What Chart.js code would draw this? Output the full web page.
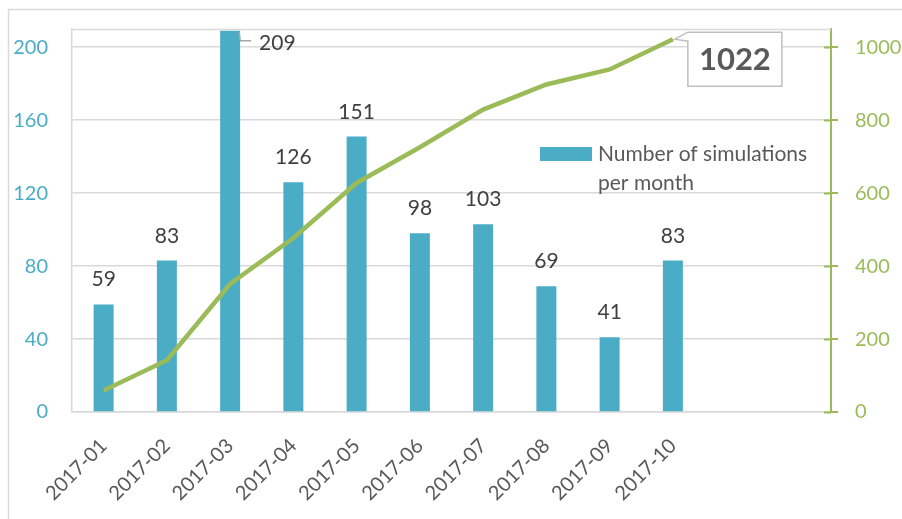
<!DOCTYPE html>
<html>
<head>
<meta charset="utf-8">
<script src="https://cdn.jsdelivr.net/npm/chart.js@4.4.1/dist/chart.umd.min.js"></script>
<style>
  html, body { margin: 0; padding: 0; background: #fff; }
  #wrap { position: relative; width: 902px; height: 519px; }
</style>
</head>
<body>
<div id="wrap"><canvas id="chart1"></canvas></div>
<script>
(function () {
  // ====== data ======
  const months = ['2017-01','2017-02','2017-03','2017-04','2017-05','2017-06','2017-07','2017-08','2017-09','2017-10','',''];
  const perMonth = [59, 83, 209, 126, 151, 98, 103, 69, 41, 83];
  const cumulative = [59, 142, 351, 477, 628, 726, 829, 898, 939, 1022];
  const leftTicks = [0, 40, 80, 120, 160, 200];
  const rightTicks = [0, 200, 400, 600, 800, 1000];
  const barLabel = 'Number of simulations per month';

  const BLUE = '#4BACC6';
  const GREEN = '#9BBB59';
  const GRID = '#D9D9D9';
  const TEXT = '#404040';
  const FONT = 'Lato, "Open Sans", sans-serif';

  // no extra room for half-labels, the plot box is fixed
  const noPad = s => { s.paddingTop = 0; s.paddingBottom = 0; s.paddingLeft = 0; s.paddingRight = 0; };

  // ====== frame + labels + legend ======
  const decor = {
    id: 'decor',
    beforeDraw(chart) {
      const c = chart.ctx;
      c.save();
      c.strokeStyle = GRID;
      c.lineWidth = 1.5;
      c.beginPath();
      c.moveTo(8.5, chart.height);
      c.lineTo(8.5, 9.5);
      c.lineTo(chart.width, 9.5);
      c.stroke();
      c.restore();
    },
    afterDraw(chart) {
      const c = chart.ctx;
      const area = chart.chartArea;
      c.save();

      // top edge of the plot box
      c.strokeStyle = GRID;
      c.lineWidth = 1.5;
      c.beginPath();
      c.moveTo(area.left, area.top + 0.5);
      c.lineTo(area.right, area.top + 0.5);
      c.stroke();

      // inner half of the right axis ticks
      const y2 = chart.scales.y2;
      c.strokeStyle = GREEN;
      c.lineWidth = 2;
      rightTicks.forEach(v => {
        const y = Math.round(y2.getPixelForValue(v)) + 0.5;
        c.beginPath();
        c.moveTo(area.right - 7, y);
        c.lineTo(area.right, y);
        c.stroke();
      });

      // bar value labels
      const bars = chart.getDatasetMeta(0).data;
      c.font = '21px ' + FONT;
      c.fillStyle = TEXT;
      c.textBaseline = 'alphabetic';
      bars.forEach((bar, i) => {
        const txt = String(perMonth[i]);
        if (bar.y - 38 < area.top) {
          // no room above: leader line + label on the right
          const bx = bar.x + bar.width / 2 - 1;
          c.strokeStyle = '#A6A6A6';
          c.lineWidth = 1.5;
          c.beginPath();
          c.moveTo(bx, bar.y + 1);
          c.lineTo(bx + 1, bar.y + 10);
          c.lineTo(bx + 12, bar.y + 10);
          c.stroke();
          c.textAlign = 'left';
          c.fillText(txt, bx + 20, bar.y + 19);
        } else {
          c.textAlign = 'center';
          c.fillText(txt, bar.x, bar.y - 18);
        }
      });

      // callout for the last cumulative value
      const pts = chart.getDatasetMeta(1).data;
      const last = pts[pts.length - 1];
      const bx0 = last.x + 15, by0 = last.y - 7, bw = 94, bh = 54;
      c.fillStyle = '#fff';
      c.strokeStyle = '#BFBFBF';
      c.lineWidth = 1.5;
      c.beginPath();
      c.moveTo(last.x + 2, last.y);
      c.lineTo(bx0, by0);
      c.lineTo(bx0 + bw, by0);
      c.lineTo(bx0 + bw, by0 + bh);
      c.lineTo(bx0, by0 + bh);
      c.lineTo(bx0, by0 + 9);
      c.closePath();
      c.fill();
      c.stroke();
      c.fillStyle = '#595959';
      c.font = 'bold 31px ' + FONT;
      c.textAlign = 'center';
      c.textBaseline = 'middle';
      c.fillText(String(cumulative[cumulative.length - 1]), bx0 + bw / 2, by0 + bh / 2 + 1);

      // legend (bar series only), wrapped in two lines
      const lx = 540, ly = 147;
      c.fillStyle = BLUE;
      c.fillRect(lx, ly, 52, 14);
      c.fillStyle = '#595959';
      c.font = '21px ' + FONT;
      c.textAlign = 'left';
      c.textBaseline = 'middle';
      const words = barLabel.split(' ');
      const lines = [];
      let cur = '';
      words.forEach(w => {
        const t = cur ? cur + ' ' + w : w;
        if (c.measureText(t).width > 232 && cur) { lines.push(cur); cur = w; } else { cur = t; }
      });
      lines.push(cur);
      lines.forEach((t, k) => c.fillText(t, lx + 58, ly + 7 + k * 29));

      c.restore();
    }
  };

  const ctx = document.getElementById('chart1');
  new Chart(ctx, {
    data: {
      labels: months,
      datasets: [
        {
          type: 'bar',
          label: barLabel,
          data: perMonth,
          backgroundColor: BLUE,
          borderWidth: 0,
          barPercentage: 0.316,
          categoryPercentage: 1,
          yAxisID: 'y',
          order: 2
        },
        {
          type: 'line',
          label: 'Cumulative',
          data: cumulative,
          borderColor: GREEN,
          borderWidth: 4.5,
          pointRadius: 0,
          tension: 0,
          fill: false,
          yAxisID: 'y2',
          order: 1
        }
      ]
    },
    options: {
      responsive: true,
      maintainAspectRatio: false,
      animation: false,
      layout: { padding: { top: 29, left: 0, right: 0, bottom: 0 } },
      plugins: {
        legend: { display: false },
        tooltip: { enabled: false }
      },
      scales: {
        x: {
          grid: { display: false, drawTicks: false },
          border: { color: GRID, width: 1.5 },
          ticks: {
            autoSkip: false,
            minRotation: 45,
            maxRotation: 45,
            padding: 22,
            color: '#595959',
            font: { family: FONT, size: 20 }
          },
          afterFit(s) { s.height = 107; noPad(s); }
        },
        y: {
          position: 'left',
          min: 0,
          max: 210,
          afterBuildTicks(s) { s.ticks = leftTicks.map(v => ({ value: v })); },
          grid: { color: GRID, lineWidth: 1.5, drawTicks: false },
          border: { color: GRID, width: 1.5 },
          ticks: {
            padding: 24,
            color: BLUE,
            font: { family: FONT, size: 20 }
          },
          afterFit(s) { s.width = 72; noPad(s); }
        },
        y2: {
          position: 'right',
          min: 0,
          max: 1050,
          afterBuildTicks(s) { s.ticks = rightTicks.map(v => ({ value: v })); },
          grid: { drawOnChartArea: false, drawTicks: true, tickLength: 7, color: GREEN, lineWidth: 2 },
          border: { color: GREEN, width: 2 },
          ticks: {
            padding: 17,
            color: GREEN,
            font: { family: FONT, size: 20 },
            callback: v => String(v)
          },
          afterFit(s) { s.width = 71; noPad(s); }
        }
      }
    },
    plugins: [decor]
  });
})();
</script>
</body>
</html>
